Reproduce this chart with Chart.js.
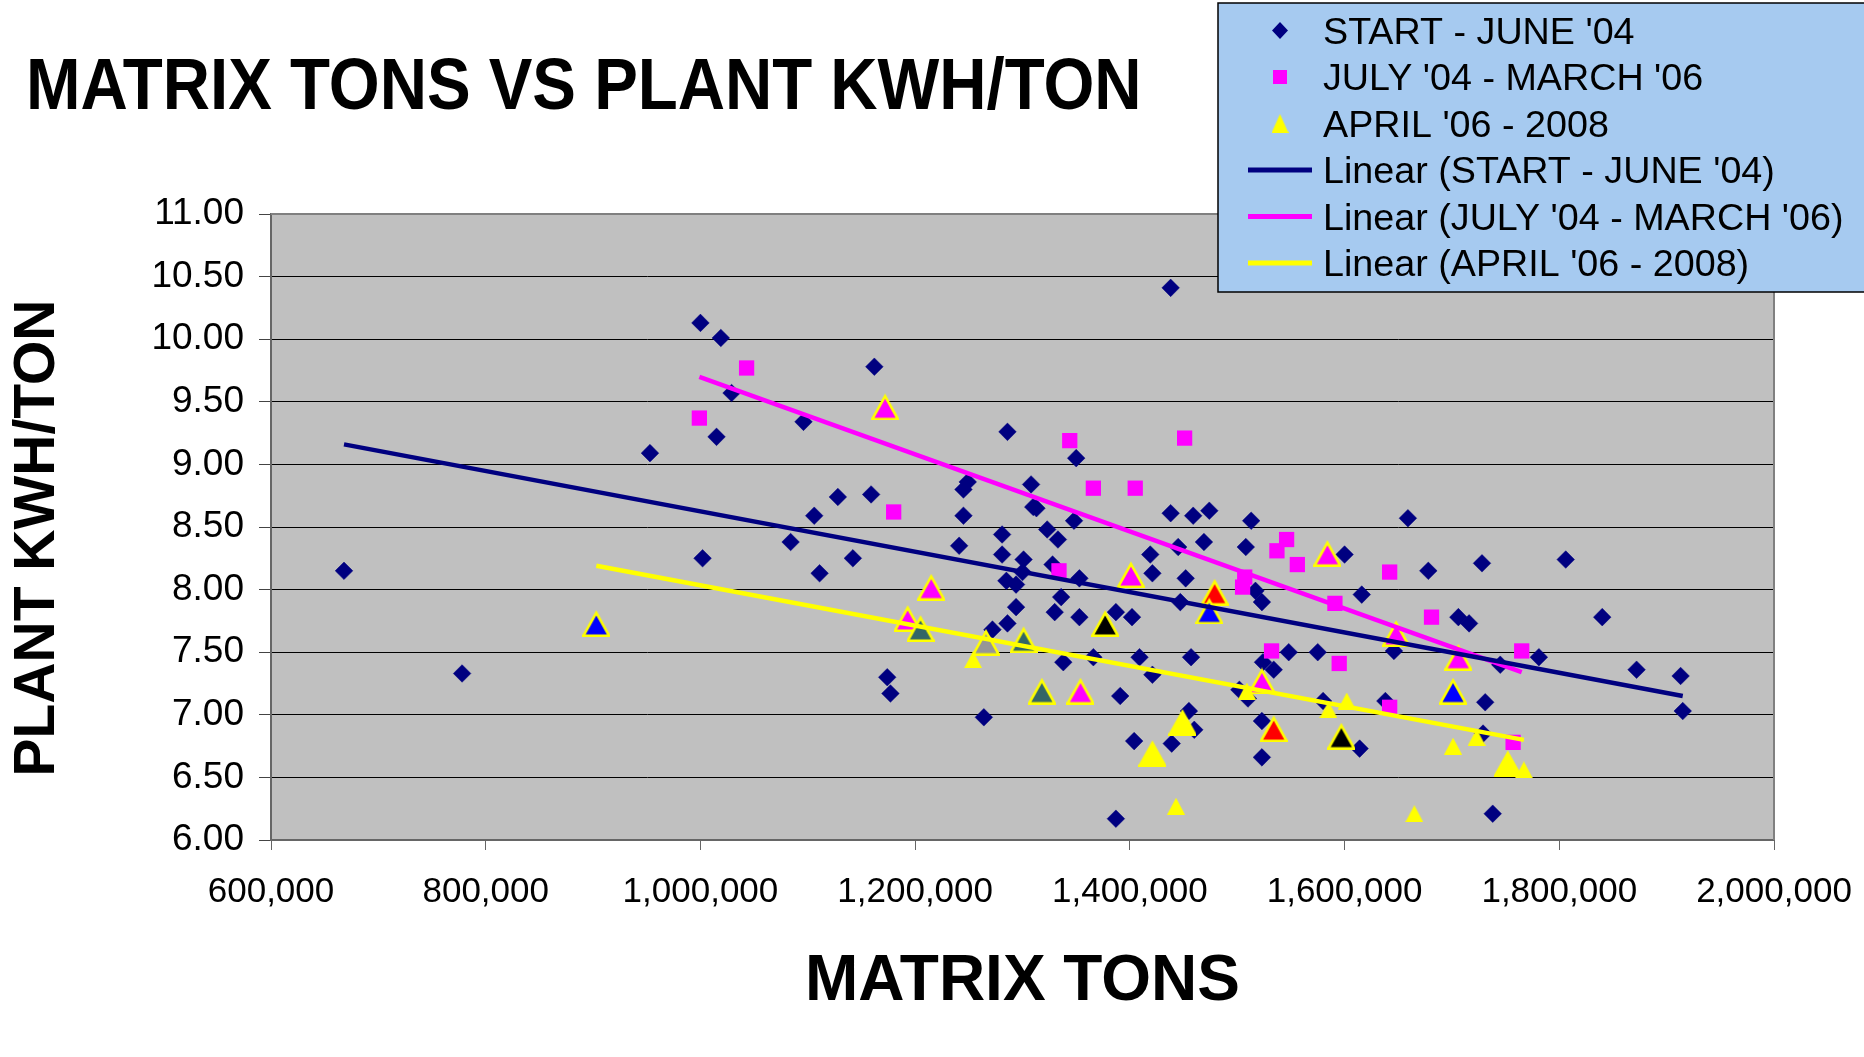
<!DOCTYPE html>
<html>
<head>
<meta charset="utf-8">
<title>Matrix tons vs plant kWh/ton</title>
<script src="https://cdn.jsdelivr.net/npm/chart.js@4.4.1/dist/chart.umd.min.js"></script>
<style>
  html, body { margin: 0; padding: 0; background: #fff; }
</style>
</head>
<body>
<canvas id="matrixChart" width="1864" height="1057"></canvas>
<script>
// values (matrix tons / plant kwh per ton)
const seriesNames = ["START - JUNE '04", "JULY '04 - MARCH '06", "APRIL '06 - 2008"];

const startTons = [668000, 778000, 1002000, 1000000, 1019000, 1029000, 1015000, 953000, 1096000, 1162000,
  1438000, 1286000, 1350000, 1308000, 1249000, 1245000, 1128000, 1159000, 1106000, 1245000,
  1310000, 1313000, 1348000, 1438000, 1459000, 1474000, 1323000, 1333000, 1281000, 1241000,
  1281000, 1301000, 1300000, 1328000, 1353000, 1419000, 1445000, 1469000, 1421000, 1452000,
  1285000, 1294000, 1447000, 1336000, 1330000, 1294000, 1353000, 1387000, 1402000, 1286000,
  1272000, 1084000, 1142000, 1111000, 1174000, 1177000, 1264000, 1366000, 1338000, 1409000,
  1421000, 1391000, 1457000, 1404000, 1455000, 1460000, 1439000, 1387000, 1513000, 1508000,
  1517000, 1523000, 1524000, 1534000, 1510000, 1523000, 1523000, 1659000, 1600000, 1678000,
  1728000, 1806000, 1616000, 1706000, 1716000, 1548000, 1575000, 1646000, 1781000, 1745000,
  1731000, 1580000, 1638000, 1614000, 1729000, 1738000, 1840000, 1872000, 1913000, 1915000,
  1502000];
const startKwh = [8.15, 7.33, 8.25, 10.13, 10.01, 9.57, 9.22, 9.09, 9.34, 9.78,
  10.41, 9.26, 9.05, 8.84, 8.86, 8.80, 8.74, 8.76, 8.59, 8.59,
  8.66, 8.65, 8.55, 8.61, 8.59, 8.63, 8.48, 8.40, 8.44, 8.35,
  8.28, 8.24, 8.14, 8.20, 8.09, 8.28, 8.34, 8.38, 8.13, 8.09,
  8.07, 8.04, 7.90, 7.94, 7.82, 7.86, 7.78, 7.82, 7.78, 7.73,
  7.68, 8.38, 8.25, 8.13, 7.30, 7.17, 6.98, 7.46, 7.42, 7.46,
  7.32, 7.15, 7.46, 6.79, 7.03, 6.88, 6.77, 6.17, 8.55, 8.34,
  7.99, 7.90, 7.42, 7.36, 7.13, 6.95, 6.66, 8.57, 8.28, 8.15,
  8.21, 8.24, 7.96, 7.78, 7.73, 7.50, 7.50, 7.51, 7.46, 7.40,
  7.10, 7.11, 7.11, 6.73, 6.85, 6.21, 7.78, 7.36, 7.31, 7.03,
  7.20];

const julyTons = [1043000, 999000, 1180000, 1344000, 1451000, 1366000, 1405000, 1334000, 1507000, 1505000,
  1532000, 1546000, 1537000, 1556000, 1642000, 1591000, 1681000, 1595000, 1642000, 1765000,
  1757000];
const julyKwh = [9.77, 9.37, 8.62, 9.19, 9.21, 8.81, 8.81, 8.15, 8.10, 8.02,
  7.51, 8.40, 8.31, 8.20, 8.14, 7.89, 7.78, 7.41, 7.06, 7.51,
  6.78];

const aprilTons = [903000, 1172000, 1215000, 1193000, 1205000, 1266000, 1254000, 1301000, 1318000, 1354000,
  1377000, 1401000, 1479000, 1474000, 1421000, 1449000, 1443000, 1584000, 1523000, 1509000,
  1534000, 1585000, 1602000, 1597000, 1648000, 1706000, 1701000, 1701000, 1723000, 1752000,
  1767000, 1665000];
const aprilKwh = [7.73, 9.46, 8.02, 7.77, 7.69, 7.58, 7.44, 7.60, 7.19, 7.19,
  7.73, 8.12, 7.98, 7.83, 6.69, 6.94, 6.27, 8.29, 7.27, 7.19,
  6.89, 7.04, 7.11, 6.83, 7.65, 7.46, 7.19, 6.75, 6.82, 6.61,
  6.56, 6.21];

// Linear trendlines: kwh/ton read at the first and last tons of each series
const trendKwh = [[9.16, 7.15], [9.70, 7.34], [8.19, 6.80]];

// the April series has some points picked out with other fills and a yellow edge
const aprilFill = ['#0000ff', '#ff00ff', '#ff00ff', '#ff00ff', '#336666', '#969696', '#ffff00', '#336666', '#336666', '#ff00ff',
  '#000000', '#ff00ff', '#ff0000', '#0000ff', '#ffff00', '#ffff00', '#ffff00', '#ff00ff', '#ff00ff', '#ffff00',
  '#ff0000', '#ffff00', '#ffff00', '#000000', '#ff00ff', '#ff00ff', '#0000ff', '#ffff00', '#ffff00', '#ffff00',
  '#ffff00', '#ffff00'];
const aprilBig = [1, 1, 1, 1, 1, 1, 0, 1, 1, 1,
  1, 1, 1, 1, 1, 1, 0, 1, 1, 0,
  1, 0, 0, 1, 1, 1, 1, 0, 0, 1,
  0, 0];

const navy = '#000080';
const magenta = '#ff00ff';
const yellow = '#ffff00';
const labelFont = 'Liberation Sans, Arial, sans-serif';

const toPoints = (xs, ys) => xs.map((x, i) => ({ x: x, y: ys[i] }));

const trendPoints = (xs, ends) => [
  { x: Math.min(...xs), y: ends[0] },
  { x: Math.max(...xs), y: ends[1] }
];

const triangleCache = {};
const makeTriangle = (fill, w, h, edge) => {
  const key = fill + w + h + edge;
  if (triangleCache[key]) return triangleCache[key];
  const c = document.createElement('canvas');
  c.width = w;
  c.height = h;
  const g = c.getContext('2d');
  const inset = edge / 2;
  g.beginPath();
  g.moveTo(w / 2, edge ? edge * 1.1 : 0);
  g.lineTo(w - inset, h - inset);
  g.lineTo(inset, h - inset);
  g.closePath();
  g.fillStyle = fill;
  g.fill();
  if (edge) {
    g.lineWidth = edge;
    g.strokeStyle = yellow;
    g.stroke();
  }
  triangleCache[key] = c;
  return c;
};

const aprilStyles = aprilFill.map((f, i) => aprilBig[i] ? makeTriangle(f, 28, 27, 2.6) : makeTriangle(f, 18, 17, 0));

const plotFrame = {
  id: 'plotFrame',
  beforeDraw(chart) {
    const { ctx, chartArea: a } = chart;
    ctx.save();
    ctx.fillStyle = '#c0c0c0';
    ctx.fillRect(a.left, a.top, a.right - a.left, a.bottom - a.top);
    ctx.restore();
  },
  beforeDatasetsDraw(chart) {
    const { ctx, chartArea: a } = chart;
    ctx.save();
    ctx.strokeStyle = '#808080';
    ctx.lineWidth = 2;
    ctx.beginPath();
    ctx.moveTo(a.left, a.top);
    ctx.lineTo(a.right, a.top);
    ctx.lineTo(a.right, a.bottom);
    ctx.stroke();
    ctx.restore();
  }
};

const squeezeText = (ctx, text, x, y, squeeze) => {
  ctx.save();
  ctx.translate(x, y);
  ctx.scale(squeeze, 1);
  ctx.fillText(text, 0, 0);
  ctx.restore();
};

const headerAndLegend = {
  id: 'headerAndLegend',
  afterDraw(chart) {
    const { ctx, chartArea: a } = chart;
    ctx.save();
    ctx.fillStyle = '#000';
    ctx.textBaseline = 'alphabetic';
    ctx.font = 'bold 73px ' + labelFont;
    squeezeText(ctx, 'MATRIX TONS VS PLANT KWH/TON', 26, 109, 0.896);

    // y axis title, a little below the middle of the plot as in the original
    ctx.save();
    ctx.translate(38.5, (a.top + a.bottom) / 2 + 11);
    ctx.rotate(-Math.PI / 2);
    ctx.font = 'bold 57px ' + labelFont;
    ctx.textAlign = 'center';
    ctx.textBaseline = 'middle';
    ctx.fillText('PLANT KWH/TON', 0, 0);
    ctx.restore();

    // legend box
    ctx.fillStyle = '#a6caf0';
    ctx.fillRect(1218, 3, 660, 289);
    ctx.strokeStyle = '#000';
    ctx.lineWidth = 1.5;
    ctx.strokeRect(1218, 3, 660, 289);

    const names = seriesNames.concat(seriesNames.map(n => 'Linear (' + n + ')'));
    const lineColors = [navy, magenta, yellow];
    const mx = 1280;
    names.forEach((name, i) => {
      const cy = 30.5 + i * 46.5;
      if (i === 0) {
        ctx.fillStyle = navy;
        ctx.beginPath();
        ctx.moveTo(mx, cy - 8.5);
        ctx.lineTo(mx + 8, cy);
        ctx.lineTo(mx, cy + 8.5);
        ctx.lineTo(mx - 8, cy);
        ctx.closePath();
        ctx.fill();
      } else if (i === 1) {
        ctx.fillStyle = magenta;
        ctx.fillRect(mx - 7, cy - 7, 14, 14);
      } else if (i === 2) {
        ctx.drawImage(makeTriangle(yellow, 17, 19, 0), mx - 8.5, cy - 9.5);
      } else {
        ctx.strokeStyle = lineColors[i - 3];
        ctx.lineWidth = 5;
        ctx.lineCap = 'butt';
        ctx.beginPath();
        ctx.moveTo(1248, cy);
        ctx.lineTo(1312, cy);
        ctx.stroke();
      }
      ctx.fillStyle = '#000';
      ctx.font = '37.7px ' + labelFont;
      ctx.textAlign = 'left';
      ctx.textBaseline = 'alphabetic';
      ctx.fillText(name, 1323, cy + 13.4);
    });
    ctx.restore();
  }
};

const ctx1 = document.getElementById('matrixChart').getContext('2d');
const matrixChart = new Chart(ctx1, {
  type: 'scatter',
  data: {
    datasets: [
      {
        label: 'Linear (' + seriesNames[0] + ')',
        type: 'line',
        data: trendPoints(startTons, trendKwh[0]),
        borderColor: navy,
        borderWidth: 4.5,
        pointRadius: 0,
        order: 0
      },
      {
        label: 'Linear (' + seriesNames[1] + ')',
        type: 'line',
        data: trendPoints(julyTons, trendKwh[1]),
        borderColor: magenta,
        borderWidth: 4.5,
        pointRadius: 0,
        order: 0
      },
      {
        label: 'Linear (' + seriesNames[2] + ')',
        type: 'line',
        data: trendPoints(aprilTons, trendKwh[2]),
        borderColor: yellow,
        borderWidth: 4.5,
        pointRadius: 0,
        order: 0
      },
      {
        label: seriesNames[2],
        data: toPoints(aprilTons, aprilKwh),
        pointStyle: aprilStyles,
        pointRadius: 14,
        order: 1
      },
      {
        label: seriesNames[1],
        data: toPoints(julyTons, julyKwh),
        pointStyle: 'rect',
        pointRadius: 10.8,
        backgroundColor: magenta,
        borderColor: magenta,
        borderWidth: 0,
        order: 2
      },
      {
        label: seriesNames[0],
        data: toPoints(startTons, startKwh),
        pointStyle: 'rectRot',
        pointRadius: 8.8,
        backgroundColor: navy,
        borderColor: navy,
        borderWidth: 0.5,
        order: 3
      }
    ]
  },
  options: {
    responsive: false,
    animation: false,
    devicePixelRatio: 1,
    layout: {
      padding: { top: 214, right: 90, bottom: 0, left: 0 }
    },
    plugins: {
      legend: { display: false },
      title: { display: false },
      tooltip: { enabled: false }
    },
    scales: {
      x: {
        type: 'linear',
        min: 600000,
        max: 2000000,
        afterFit: (scale) => {
          scale.height = 217;
          scale.paddingLeft = 0;
          scale.paddingRight = 0;
        },
        ticks: {
          stepSize: 200000,
          padding: 21,
          color: '#000',
          font: { family: labelFont, size: 35 },
          callback: (v) => v.toLocaleString('en-US')
        },
        grid: {
          drawOnChartArea: false,
          drawTicks: true,
          tickLength: 10,
          color: '#666'
        },
        border: { color: '#666', width: 2 },
        title: {
          display: true,
          text: 'MATRIX TONS',
          color: '#000',
          font: { family: labelFont, size: 64, weight: 'bold' },
          padding: { top: 0, bottom: 36 }
        }
      },
      y: {
        min: 6,
        max: 11,
        afterFit: (scale) => { scale.width = 271; },
        ticks: {
          stepSize: 0.5,
          padding: 15,
          color: '#000',
          font: { family: labelFont, size: 37 },
          callback: (v) => v.toFixed(2)
        },
        grid: {
          color: '#000',
          lineWidth: 1,
          drawTicks: true,
          tickLength: 12,
          tickColor: '#444'
        },
        border: { color: '#666', width: 2 }
      }
    }
  },
  plugins: [plotFrame, headerAndLegend]
});
</script>
</body>
</html>
